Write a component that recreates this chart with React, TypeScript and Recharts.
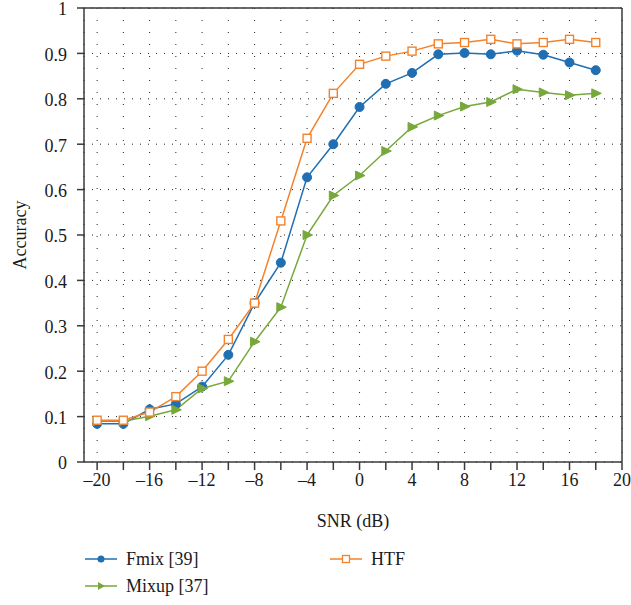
import {
  LineChart, Line, XAxis, YAxis, CartesianGrid, Legend, ReferenceLine,
} from "recharts";

const snr = [-20, -18, -16, -14, -12, -10, -8, -6, -4, -2, 0, 2, 4, 6, 8, 10, 12, 14, 16, 18];
const fmix = [0.084, 0.084, 0.116, 0.128, 0.166, 0.236, 0.35, 0.439, 0.627, 0.7, 0.782, 0.833, 0.857, 0.898, 0.901, 0.898, 0.906, 0.897, 0.88, 0.863];
const mixup = [0.09, 0.09, 0.101, 0.115, 0.162, 0.178, 0.265, 0.341, 0.5, 0.587, 0.631, 0.685, 0.738, 0.763, 0.783, 0.793, 0.821, 0.814, 0.808, 0.812];
const htf = [0.092, 0.092, 0.11, 0.144, 0.2, 0.27, 0.35, 0.531, 0.713, 0.812, 0.876, 0.894, 0.905, 0.921, 0.924, 0.931, 0.921, 0.924, 0.931, 0.924];

const xTicks = [-20, -18, -16, -14, -12, -10, -8, -6, -4, -2, 0, 2, 4, 6, 8, 10, 12, 14, 16, 18, 20];
const yTicks = [0, 0.1, 0.2, 0.3, 0.4, 0.5, 0.6, 0.7, 0.8, 0.9, 1];

const BLUE = "#1f6fb2";
const GREEN = "#77a83a";
const ORANGE = "#f5822a";
const AXIS = "#3a3a3a";
const TEXT = "#1a1a1a";
const FONT = "'Liberation Serif', serif";

const data = snr.map((x, i) => ({ snr: x, fmix: fmix[i], mixup: mixup[i], htf: htf[i] }));

function Triangle(props: any) {
  const { cx, cy } = props;
  if (cx == null || cy == null) return null;
  return <path d={`M${cx - 4},${cy - 4.5} L${cx + 5.5},${cy} L${cx - 4},${cy + 4.5} Z`} fill={GREEN} stroke={GREEN} />;
}

function Square(props: any) {
  const { cx, cy } = props;
  if (cx == null || cy == null) return null;
  return <rect x={cx - 4} y={cy - 4} width={8} height={8} fill="#fff" stroke={ORANGE} strokeWidth={1.4} />;
}

function XTick(props: any) {
  const { x, y, payload } = props;
  const v = payload.value;
  if (v % 4 !== 0) return null;
  const label = v < 0 ? `–${Math.abs(v)}` : `${v}`;
  return (
    <text x={x} y={y} dy="0.71em" textAnchor="middle" style={{ fontFamily: FONT }} fontSize={18} fill={TEXT}>
      {label}
    </text>
  );
}

function YTick(props: any) {
  const { x, y, payload } = props;
  const v = Math.round(payload.value * 10) / 10;
  return (
    <text x={x} y={y + 1} dy="0.35em" textAnchor="end" style={{ fontFamily: FONT }} fontSize={18} fill={TEXT}>
      {String(v)}
    </text>
  );
}

const legendItems = [
  { name: "Fmix [39]", color: BLUE, kind: "circle", left: 85, top: 13 },
  { name: "HTF", color: ORANGE, kind: "square", left: 330, top: 13 },
  { name: "Mixup [37]", color: GREEN, kind: "triangle", left: 85, top: 40 },
];

function LegendContent() {
  return (
    <div style={{ position: "relative", width: 631, height: 70, fontFamily: FONT, fontSize: 18, color: TEXT }}>
      {legendItems.map((it) => (
        <div key={it.name} style={{ position: "absolute", left: it.left, top: it.top, display: "flex", alignItems: "center", height: 22 }}>
          <svg width={32} height={14} style={{ marginRight: 9 }}>
            <line x1={0} y1={7} x2={32} y2={7} stroke={it.color} strokeWidth={1.5} />
            {it.kind === "circle" && <circle cx={16} cy={7} r={3.5} fill={it.color} />}
            {it.kind === "square" && <rect x={12.5} y={3.5} width={7} height={7} fill="#fff" stroke={it.color} strokeWidth={1.3} />}
            {it.kind === "triangle" && <path d="M13,3 L20,7 L13,11 Z" fill={it.color} />}
          </svg>
          <span>{it.name}</span>
        </div>
      ))}
    </div>
  );
}

export default function App() {
  return (
    <div style={{ position: "absolute", left: 0, top: 0, background: "#fff", fontFamily: FONT }}>
      <LineChart width={631} height={605} data={data} margin={{ top: 8, right: 9, left: 0, bottom: 0 }} style={{ fontFamily: FONT }}>
        <CartesianGrid horizontal={true} vertical={false} stroke="#222" strokeDasharray="1 7" />
        <CartesianGrid horizontal={false} vertical={true} stroke="#222" strokeDasharray="1 11" />
        <XAxis
          dataKey="snr"
          type="number"
          domain={[-21, 20]}
          ticks={xTicks}
          interval={0}
          tick={<XTick />}
          tickSize={8}
          tickMargin={3}
          stroke={AXIS}
          strokeWidth={1.5}
          height={73}
          label={{ value: "SNR (dB)", position: "insideBottom", offset: 8, fontSize: 18, fill: TEXT, style: { fontFamily: FONT } }}
        />
        <YAxis
          type="number"
          domain={[0, 1]}
          ticks={yTicks}
          interval={0}
          tick={<YTick />}
          tickSize={7}
          tickMargin={10}
          stroke={AXIS}
          strokeWidth={1.5}
          width={84}
          label={{
            content: () => (
              <text x={20} y={235} transform="rotate(-90 20 235)" textAnchor="middle" dominantBaseline="central" style={{ fontFamily: FONT }} fontSize={18} fill={TEXT}>
                Accuracy
              </text>
            ),
          }}
        />
        <ReferenceLine y={1} stroke={AXIS} strokeWidth={1.5} />
        <ReferenceLine x={20} stroke={AXIS} strokeWidth={1.5} />
        <Legend verticalAlign="bottom" content={<LegendContent />} wrapperStyle={{ left: 0, width: 631 }} />
        <Line dataKey="fmix" name="Fmix [39]" stroke={BLUE} strokeWidth={1.5} dot={{ r: 4.5, fill: BLUE, stroke: BLUE, strokeWidth: 1 }} isAnimationActive={false} />
        <Line dataKey="mixup" name="Mixup [37]" stroke={GREEN} strokeWidth={1.5} dot={<Triangle />} isAnimationActive={false} />
        <Line dataKey="htf" name="HTF" stroke={ORANGE} strokeWidth={1.5} dot={<Square />} isAnimationActive={false} />
      </LineChart>
    </div>
  );
}
